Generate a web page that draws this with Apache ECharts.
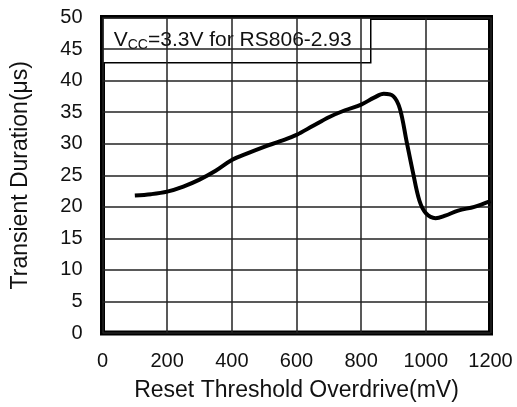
<!DOCTYPE html>
<html>
<head>
<meta charset="utf-8">
<script src="https://cdn.jsdelivr.net/npm/echarts@6/dist/echarts.min.js"></script>
<style>html,body{margin:0;padding:0;background:#fff}#c{width:517px;height:407px}</style>
</head>
<body>
<div id="c"></div>
<script>
var overdrive = [100,150,200,250,300,350,400,450,500,550,600,650,700,750,800,840,870,900,920,940,960,980,1000,1030,1060,1100,1150,1200];
var duration  = [21.8,22.0,22.4,23.2,24.3,25.7,27.4,28.5,29.5,30.4,31.4,32.8,34.2,35.3,36.2,37.3,37.9,37.5,35.5,30.5,25.5,21.0,19.0,18.2,18.6,19.4,20.0,20.9];
var xTitle = 'Reset Threshold Overdrive(mV)';
var yTitle = 'Transient Duration(\u03bcs)';
var noteMain = 'V';
var noteSub = 'CC';
var noteRest = '=3.3V for RS806-2.93';

var chart = echarts.init(document.getElementById('c'));
var font = 'Arial, "Liberation Sans", sans-serif';
chart.setOption({
  animation: false,
  grid: {left: 102.5, right: 26.5, top: 17.5, bottom: 71.5, show: true, borderColor: '#000', borderWidth: 5, backgroundColor: 'transparent'},
  xAxis: {
    type: 'value', min: 0, max: 1200, interval: 200,
    name: xTitle, nameLocation: 'middle', nameGap: 46,
    nameTextStyle: {fontFamily: font, fontSize: 23, color: '#111'},
    axisLine: {show: false}, axisTick: {show: false},
    axisLabel: {fontFamily: font, fontSize: 20, color: '#111', margin: 18, formatter: function (v) { return String(v); }},
    splitLine: {show: true, lineStyle: {color: '#222', width: 1.5}}
  },
  yAxis: {
    type: 'value', min: 0, max: 50, interval: 5,
    name: yTitle, nameLocation: 'middle', nameGap: 70,
    nameTextStyle: {fontFamily: font, fontSize: 23, color: '#111'},
    axisLine: {show: false}, axisTick: {show: false},
    axisLabel: {fontFamily: font, fontSize: 20, color: '#111', margin: 20},
    splitLine: {show: true, lineStyle: {color: '#222', width: 1.5}}
  },
  series: [{
    type: 'line', smooth: 0.35, showSymbol: false,
    data: overdrive.map(function (x, i) { return [x, duration[i]]; }),
    lineStyle: {color: '#000', width: 4},
    z: 3
  }],
  graphic: [{
    type: 'group', left: 102, top: 17, z: 10,
    children: [
      {type: 'rect', shape: {x: 0, y: 0, width: 268, height: 45}, style: {fill: '#fff', stroke: '#000', lineWidth: 1.5}},
      {type: 'text', x: 11, y: 22, style: {
        text: '{m|' + noteMain + '}{s|' + noteSub + '}{m|' + noteRest + '}',
        verticalAlign: 'middle',
        rich: {
          m: {fontFamily: font, fontSize: 21, fill: '#111', color: '#111'},
          s: {fontFamily: font, fontSize: 14, fill: '#111', color: '#111', padding: [11, 0, 0, 0]}
        }
      }}
    ]
  }]
});
</script>
</body>
</html>
